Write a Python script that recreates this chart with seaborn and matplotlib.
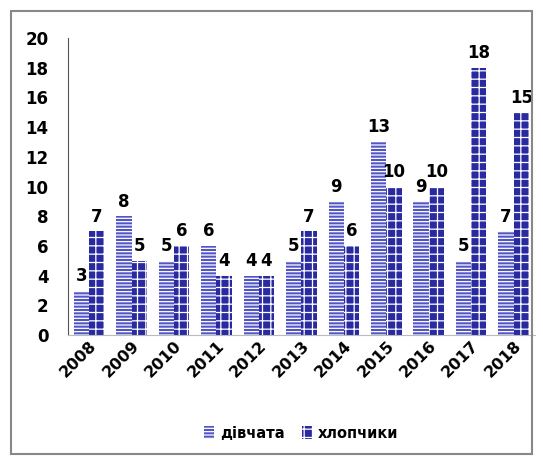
import matplotlib
matplotlib.use("Agg")
import matplotlib.pyplot as plt
import seaborn as sns
import pandas as pd
from matplotlib.patches import Rectangle

years = ["2008", "2009", "2010", "2011", "2012", "2013", "2014", "2015", "2016", "2017", "2018"]
girls = [3, 8, 5, 6, 4, 5, 9, 13, 9, 5, 7]
boys = [7, 5, 6, 4, 4, 7, 6, 10, 10, 18, 15]
series = ["дівчата", "хлопчики"]

df = pd.DataFrame({
    "year": years * 2,
    "value": girls + boys,
    "series": [series[0]] * len(years) + [series[1]] * len(years),
})

sns.set_style("white")
plt.rcParams["font.family"] = ["DejaVu Sans"]
plt.rcParams["hatch.linewidth"] = 0.9
plt.rcParams["text.color"] = "black"
plt.rcParams["xtick.color"] = "black"
plt.rcParams["ytick.color"] = "black"

fig = plt.figure(figsize=(5.43, 4.59), dpi=100)
ax = fig.add_axes([0.125, 0.27, 0.86, 0.647])

sns.barplot(data=df, x="year", y="value", hue="series", ax=ax, width=0.72,
            palette=["#5a5ec6", "#2a2aa0"], saturation=1, legend=True)

face = {0: "#5256c4", 1: "#2a2aa0"}
hatch = {0: "-----", 1: "++"}
for i, cont in enumerate(ax.containers):
    for bar in cont:
        bar.set_facecolor(face[i])
        bar.set_hatch(hatch[i])
        bar.set_edgecolor("white")
        bar.set_linewidth(0)
    ax.bar_label(cont, fontsize=12, fontweight="bold", padding=4, color="black")

ax.set_ylim(0, 20)
ax.set_yticks(range(0, 21, 2))
ax.set_xlabel("")
ax.set_ylabel("")
for s in ["top", "right"]:
    ax.spines[s].set_visible(False)
ax.spines["left"].set_color("#555555")
ax.spines["bottom"].set_color("#bbbbbb")
ax.tick_params(axis="y", labelsize=12, length=0, pad=14)
ax.tick_params(axis="x", labelsize=11.5, length=0, pad=2)
for lab in ax.get_yticklabels():
    lab.set_fontweight("bold")
for lab in ax.get_xticklabels():
    lab.set_fontweight("bold")
    lab.set_rotation(45)
    lab.set_ha("right")
    lab.set_rotation_mode("anchor")

handles, labels = ax.get_legend_handles_labels()
for i, h in enumerate(handles):
    h.set_facecolor(face[i])
    h.set_hatch(hatch[i])
    h.set_edgecolor("white")
    h.set_linewidth(0)
ax.legend(handles, labels, loc="center", bbox_to_anchor=(0.5, -0.33), ncol=2,
          frameon=False, prop={"weight": "bold", "size": 10.5},
          handlelength=0.7, handleheight=0.9, handletextpad=0.4, columnspacing=1.2)

fig.patches.append(Rectangle((0.02, 0.01), 0.96, 0.965, transform=fig.transFigure,
                             fill=False, edgecolor="#888888", linewidth=1.5))

fig.savefig("out.png", dpi=100)
